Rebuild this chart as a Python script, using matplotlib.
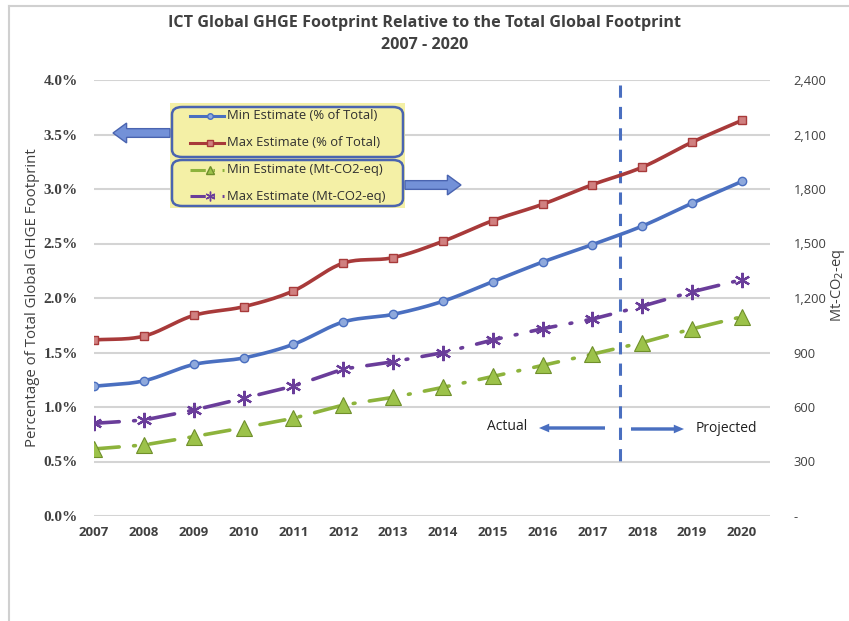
import numpy as np
import matplotlib
matplotlib.use("Agg")
import matplotlib.pyplot as plt
from matplotlib.patches import FancyBboxPatch, Rectangle, FancyArrow
from matplotlib.lines import Line2D
from matplotlib.ticker import FuncFormatter

# ---------------- data ----------------
years = [2007, 2008, 2009, 2010, 2011, 2012, 2013, 2014, 2015, 2016, 2017, 2018, 2019, 2020]
min_pct = [1.19, 1.24, 1.39, 1.45, 1.575, 1.78, 1.85, 1.97, 2.15, 2.33, 2.49, 2.66, 2.87, 3.07]
max_pct = [1.615, 1.65, 1.84, 1.92, 2.065, 2.32, 2.37, 2.52, 2.71, 2.86, 3.04, 3.20, 3.43, 3.63]
min_mt = [369, 391, 437, 486, 538, 611, 653, 708, 768, 829, 891, 955, 1030, 1097]
max_mt = [510, 528, 583, 648, 715, 809, 849, 899, 969, 1031, 1084, 1155, 1234, 1301]
pct_ticks = [0.0, 0.5, 1.0, 1.5, 2.0, 2.5, 3.0, 3.5, 4.0]
mt_ticks = [0, 300, 600, 900, 1200, 1500, 1800, 2100, 2400]
split_year = 2017.56

title = "ICT Global GHGE Footprint Relative to the Total Global Footprint\n2007 - 2020"
left_label = "Percentage of Total Global GHGE Footprint"
right_label = "Mt-CO$_2$-eq"
legend_labels = ["Min Estimate (% of Total)", "Max Estimate (% of Total)",
                 "Min Estimate (Mt-CO2-eq)", "Max Estimate (Mt-CO2-eq)"]

# ---------------- style ----------------
W, H = 849, 621
TXT = "#404040"
BLUE = "#4a6fc0"
RED = "#a83a3a"
GREEN = "#8db33c"
PURPLE = "#6a3d9a"
GRID = "#d4d4d4"
SANS = ["Open Sans", "DejaVu Sans"]


def fx(x):
    return x / W


def fy(y):
    return 1 - y / H


def smooth(x, y, n=20):
    """Catmull-Rom rendering of the curve through the data points (Excel 'smoothed line')."""
    x = np.asarray(x, float)
    y = np.asarray(y, float)
    px = np.concatenate([[2 * x[0] - x[1]], x, [2 * x[-1] - x[-2]]])
    py = np.concatenate([[2 * y[0] - y[1]], y, [2 * y[-1] - y[-2]]])
    xs, ys = [], []
    t = np.linspace(0, 1, n, endpoint=False)
    for i in range(1, len(px) - 2):
        for arr, out in ((px, xs), (py, ys)):
            p0, p1, p2, p3 = arr[i - 1], arr[i], arr[i + 1], arr[i + 2]
            out.extend(0.5 * ((2 * p1) + (-p0 + p2) * t + (2 * p0 - 5 * p1 + 4 * p2 - p3) * t ** 2
                              + (-p0 + 3 * p1 - 3 * p2 + p3) * t ** 3))
    xs.append(x[-1])
    ys.append(y[-1])
    return np.array(xs), np.array(ys)


fig = plt.figure(figsize=(W / 100, H / 100), dpi=100)
fig.patch.set_facecolor("white")

# outer border (left and top of the chart area)
fig.add_artist(Line2D([fx(8.5), fx(8.5)], [fy(6), 0], color="#d0d0d0", lw=1.5))
fig.add_artist(Line2D([fx(8.5), 1], [fy(6), fy(6)], color="#d0d0d0", lw=1.5))

ax_left, ax_right, ax_top, ax_bot = 94, 770, 80, 516
ax = fig.add_axes([fx(ax_left), fy(ax_bot), fx(ax_right) - fx(ax_left), fy(ax_top) - fy(ax_bot)])
ax2 = ax.twinx()

# x scale: 2007 at px 94, 2020 at px 742
step = (742 - 94) / 13
ax.set_xlim(2007, 2007 + (ax_right - 94) / step)
ax.set_ylim(0, 4.0)
ax2.set_ylim(0, 2400)

for a in (ax, ax2):
    for s in a.spines.values():
        s.set_visible(False)
    a.tick_params(length=0)

ax.set_yticks(pct_ticks)
ax.yaxis.grid(True, color=GRID, lw=1.5)
ax.set_axisbelow(True)
ax.yaxis.set_major_formatter(FuncFormatter(lambda v, p: f"{v:.1f}%"))
for lab in ax.get_yticklabels():
    lab.set_fontfamily("Liberation Serif")
    lab.set_fontweight("bold")
    lab.set_fontsize(11)
    lab.set_color(TXT)
ax.tick_params(axis="y", pad=11.5)

ax.set_xticks(years)
ax.set_xticklabels([str(y) for y in years], fontfamily=SANS, fontweight="bold",
                   fontsize=9.5, color=TXT)
ax.tick_params(axis="x", pad=7)

ax2.set_yticks(mt_ticks)
ax2.set_yticklabels(["-" if v == 0 else f"{v:,}" for v in mt_ticks], fontfamily=SANS,
                    fontsize=9.3, color=TXT)
ax2.tick_params(axis="y", pad=17)

fig.text(fx(33), fy(298), left_label, rotation=90, ha="center", va="center",
         fontfamily=SANS, fontsize=10.8, color=TXT)
fig.text(fx(838), fy(285), right_label, rotation=90, ha="center", va="center",
         fontfamily=SANS, fontsize=10.5, color=TXT)

# vertical actual/projected split
ax.plot([split_year, split_year], [4.0 - 5 / 109, 4.0 - 383 / 109], color=BLUE, lw=2.2,
        ls=(0, (4, 3)), zorder=2)

# series
sx, sy = smooth(years, min_pct)
ax.plot(sx, sy, color=BLUE, lw=2.6, zorder=4, solid_capstyle="round")
ax.plot(years, min_pct, ls="none", marker="o", ms=6, mfc="#8fa9dc", mec=BLUE, mew=1.0, zorder=5)
sx, sy = smooth(years, max_pct)
ax.plot(sx, sy, color=RED, lw=2.6, zorder=4, solid_capstyle="round")
ax.plot(years, max_pct, ls="none", marker="s", ms=6, mfc="#d08080", mec=RED, mew=1.0, zorder=5)

ax2.plot(years, max_mt, color=PURPLE, lw=2.6, ls=(0, (7, 4, 0.5, 4)), dash_capstyle="round",
         marker=(6, 2, 0), ms=11, mec=PURPLE, mew=1.6, zorder=4)
ax2.plot(years, min_mt, color=GREEN, lw=2.6, ls=(0, (7, 4, 0.5, 4)), dash_capstyle="round",
         marker="^", ms=11, mfc="#9cc24a", mec="#6f8f2a", mew=0.8, zorder=4)

# title
fig.text(fx(425), fy(34), title, ha="center", va="center", fontfamily=SANS, fontweight="bold",
         fontsize=11.6, color=TXT, linespacing=1.5)

# Actual / Projected annotation
fig.text(fx(507), fy(427), "Actual", ha="center", va="center", fontfamily=SANS, fontsize=10, color="#202020")
fig.text(fx(726), fy(428), "Projected", ha="center", va="center", fontfamily=SANS, fontsize=10, color="#202020")
fig.add_artist(FancyArrow(fx(605), fy(428), fx(539) - fx(605), 0, width=0.0055, head_width=0.014,
                          head_length=0.012, length_includes_head=True, color=BLUE, lw=0))
fig.add_artist(FancyArrow(fx(631), fy(429), fx(684) - fx(631), 0, width=0.0055, head_width=0.014,
                          head_length=0.012, length_includes_head=True, color=BLUE, lw=0))

# legend boxes
fig.add_artist(Rectangle((fx(170), fy(208)), fx(405) - fx(170), fy(103) - fy(208),
                         facecolor="#f4f0a6", edgecolor="none", zorder=6))
for y0, y1 in ((107, 157), (160, 206)):
    fig.add_artist(FancyBboxPatch((fx(172), fy(y1)), fx(403) - fx(172), fy(y0) - fy(y1),
                                  boxstyle="round,pad=0,rounding_size=0.012",
                                  facecolor="none", edgecolor="#4a64b0", lw=1.8, zorder=7))

rows = [116, 143, 170, 196]
styles = [
    dict(color=BLUE, ls="-", marker="o", ms=4, mfc="#8fa9dc", mec=BLUE),
    dict(color=RED, ls="-", marker="s", ms=4.5, mfc="#d08080", mec=RED),
    dict(color=GREEN, ls=(0, (5, 2.5, 0.5, 2.5)), marker="^", ms=6, mfc="#9cc24a", mec="#6f8f2a"),
    dict(color=PURPLE, ls=(0, (5, 2.5, 0.5, 2.5)), marker=(6, 2, 0), ms=7, mec=PURPLE),
]
for yy, lab, st in zip(rows, legend_labels, styles):
    fig.add_artist(Line2D([fx(190), fx(210), fx(224)], [fy(yy)] * 3, lw=2.2, markevery=[1],
                          zorder=8, **st))
    fig.text(fx(227), fy(yy), lab, ha="left", va="center", fontfamily=SANS, fontsize=9.4,
             color="#303030", zorder=8)

# block arrows pointing to the axes
fig.add_artist(FancyArrow(fx(170), fy(133), fx(113) - fx(170), 0, width=0.014, head_width=0.032,
                          head_length=0.016, length_includes_head=True, facecolor="#7391d8",
                          edgecolor="#4a64b0", lw=1, zorder=6))
fig.add_artist(FancyArrow(fx(405), fy(185), fx(461) - fx(405), 0, width=0.014, head_width=0.032,
                          head_length=0.016, length_includes_head=True, facecolor="#7391d8",
                          edgecolor="#4a64b0", lw=1, zorder=6))

fig.savefig("out.png", dpi=100, facecolor="white")
